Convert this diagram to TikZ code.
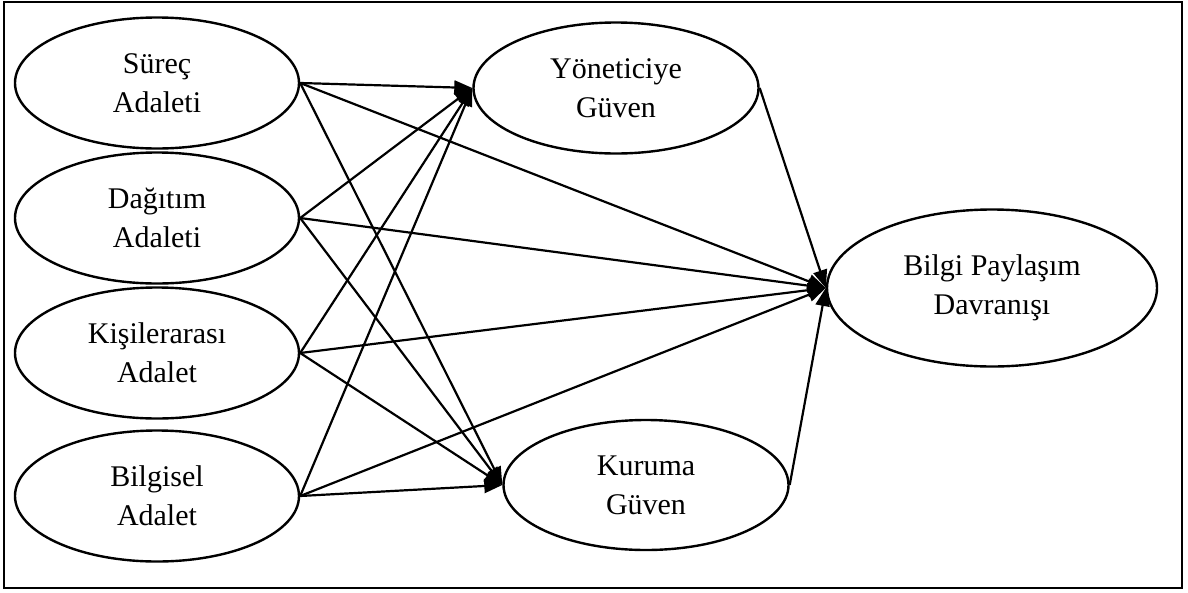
\documentclass[tikz,border=0pt]{standalone}
\usepackage{fontspec}
\setmainfont{Liberation Serif}
\usetikzlibrary{shapes.geometric,arrows.meta}

\begin{document}
\begin{tikzpicture}[x=1pt,y=-1pt,line width=2.4pt,
  latent/.style={draw,ellipse,inner sep=0pt,align=center,
    font=\fontsize{30}{39}\selectfont,minimum width=284pt,minimum height=131pt},
  path/.style={-{Triangle[length=18pt,width=14pt]},line width=2.2pt}]
\useasboundingbox (0,0) rectangle (1188,592);
\draw[line width=1.8pt] (4,2) rectangle (1182,588);
\node[latent] (surec) at (157,83) {Süreç\\Adaleti};
\node[latent] (dagitim) at (157,218) {Dağıtım\\Adaleti};
\node[latent] (kisiler) at (157,353) {Kişilerarası\\Adalet};
\node[latent] (bilgisel) at (157,496) {Bilgisel\\Adalet};
\node[latent,minimum width=285pt] (yonetici) at (616,88) {Yöneticiye\\Güven};
\node[latent,minimum width=285pt,minimum height=130pt] (kurum) at (646,485) {Kuruma\\Güven};
\node[latent,minimum width=330pt,minimum height=157pt] (paylasim) at (992,288) {Bilgi Paylaşım\\Davranışı};
\foreach \src in {surec,dagitim,kisiler,bilgisel}{
  \draw[path] (\src.east) -- (yonetici.west);
  \draw[path] (\src.east) -- (kurum.west);
  \draw[path] (\src.east) -- (paylasim.west);
}
\draw[path] (yonetici.east) -- (paylasim.west);
\draw[path] (kurum.east) -- (paylasim.west);
\end{tikzpicture}
\end{document}
